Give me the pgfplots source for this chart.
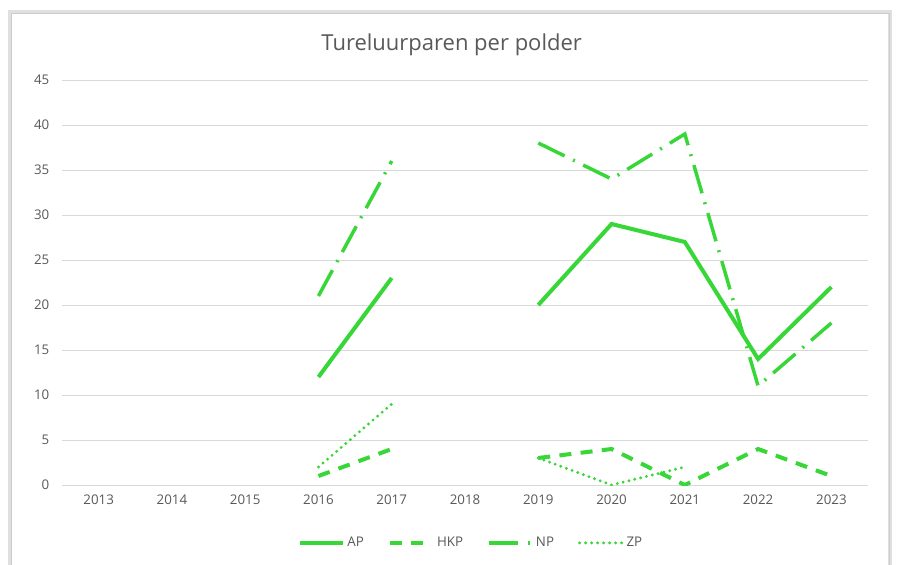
\documentclass[border=0pt]{standalone}
\usepackage{pgfplots}
\pgfplotsset{compat=1.18}
\usepackage{fontspec}
\setmainfont{Open Sans}
\definecolor{lg}{RGB}{55,215,55}
\definecolor{txt}{RGB}{89,89,89}
\definecolor{grd}{RGB}{217,217,217}
\begin{document}
\begin{tikzpicture}[x=0.75pt,y=0.75pt]
\useasboundingbox (-62,-79) rectangle (837,485);
\fill[white] (-62,-79) rectangle (837,485);
\draw[black!12,line width=3pt] (-52,-90) -- (-52,473) -- (828,473) -- (828,-90);
\draw[black!20,line width=0.6pt] (-51,-90) -- (-51,472) -- (827,472) -- (827,-90);
\begin{axis}[
  at={(0,0)}, anchor=south west,
  scale only axis, width=604.5pt, height=303.75pt,
  xmin=-0.5, xmax=10.5, ymin=0, ymax=45,
  xtick={0,...,10},
  xticklabels={2013,2014,2015,2016,2017,2018,2019,2020,2021,2022,2023},
  ytick={0,5,...,45},
  ymajorgrids, grid style={grd, line width=0.75pt},
  axis line style={draw=none},
  major tick length=0pt,
  tick label style={font=\fontsize{10}{12}\selectfont, text=txt},
  /pgf/number format/assume math mode=true,
  yticklabel style={xshift=-6pt},
  xticklabel style={yshift=-4pt},
  title={Tureluurparen per polder},
  title style={font=\fontsize{16.5}{19}\selectfont, text=txt, at={(0.5,1)}, yshift=9pt, xshift=-10pt},
  unbounded coords=jump,
  legend columns=-1,
  legend style={at={(0.508,-0.143)}, anchor=center, draw=none, fill=none,
     font=\fontsize{10}{12}\selectfont, text=txt,
     /tikz/every even column/.append style={column sep=16pt}},
  legend image code/.code={\draw[#1] (0pt,0pt) -- (32pt,0pt);},
]
\addplot[lg, line width=3pt] coordinates {(3,12) (4,23) (5,nan) (6,20) (7,29) (8,27) (9,14) (10,22)};
\addlegendentry{AP}
\addplot[lg, line width=3pt, dash pattern=on 9pt off 7pt] coordinates {(3,1) (4,4) (5,nan) (6,3) (7,4) (8,0) (9,4) (10,1)};
\addlegendentry{HKP}
\addplot[lg, line width=2.6pt, dash pattern=on 22pt off 7pt on 1.5pt off 7pt] coordinates {(3,21) (4,36) (5,nan) (6,38) (7,34) (8,39) (9,11) (10,18)};
\addlegendentry{NP}
\addplot[lg, line width=2.4pt, line cap=round, dash pattern=on 0pt off 4.5pt] coordinates {(3,2) (4,9) (5,nan) (6,3) (7,0) (8,2)};
\addlegendentry{ZP}
\end{axis}
\end{tikzpicture}
\end{document}
